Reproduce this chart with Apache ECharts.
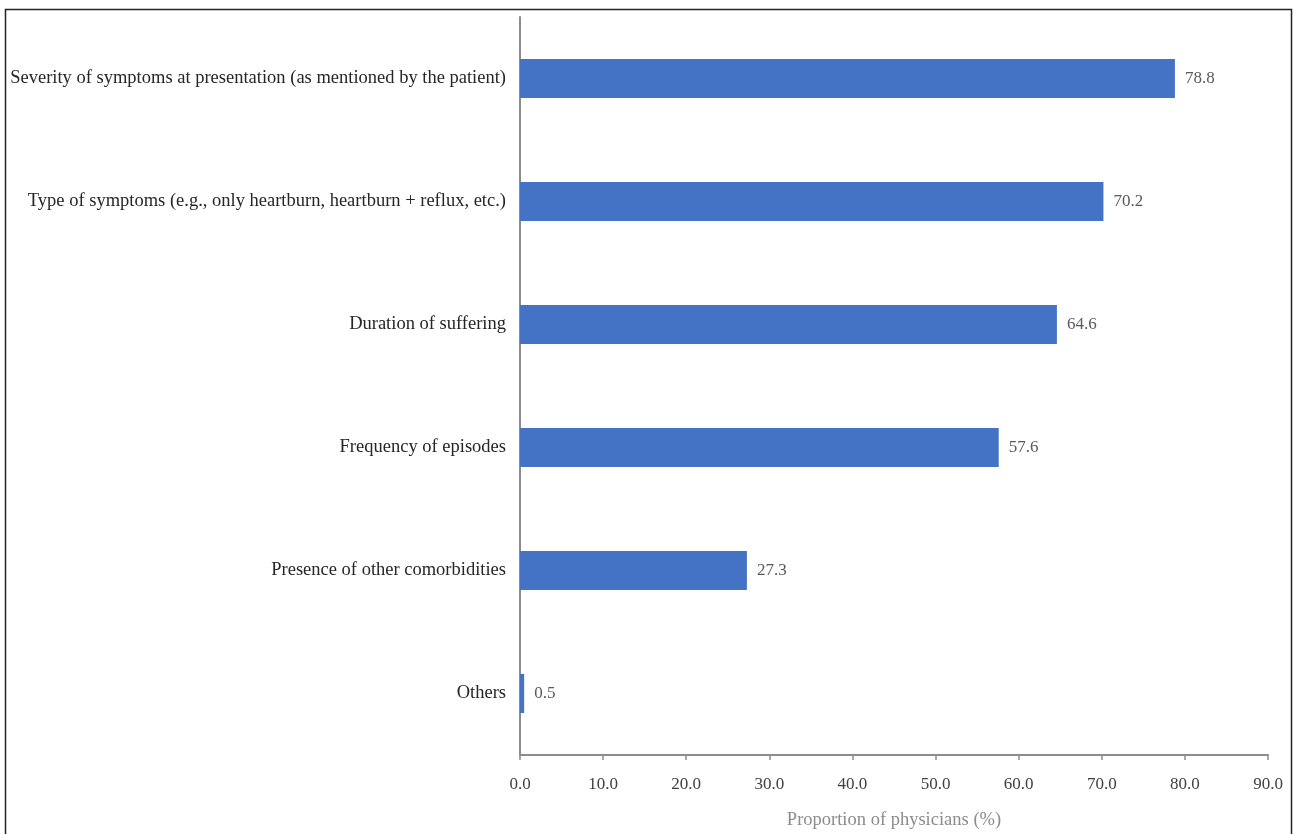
<!DOCTYPE html>
<html>
<head>
<meta charset="utf-8">
<script src="https://cdn.jsdelivr.net/npm/echarts@6/dist/echarts.min.js"></script>
<style>
  html, body { margin: 0; padding: 0; background: #fff; }
  #main { width: 1298px; height: 834px; }
</style>
</head>
<body>
<div id="main"></div>
<script>
var categories = [
    'Severity of symptoms at presentation (as mentioned by the patient)',
    'Type of symptoms (e.g., only heartburn, heartburn + reflux, etc.)',
    'Duration of suffering',
    'Frequency of episodes',
    'Presence of other comorbidities',
    'Others'
];
var proportions = [78.8, 70.2, 64.6, 57.6, 27.3, 0.5];

var myChart = echarts.init(document.getElementById('main'));

var option = {
    backgroundColor: '#fff',
    textStyle: { fontFamily: 'Liberation Serif' },
    grid: { left: 520, right: 30, top: 17, bottom: 79, outerBoundsMode: 'none' },
    graphic: [{
        type: 'rect',
        shape: { x: 5.5, y: 9.5, width: 1286, height: 830 },
        style: { fill: 'none', stroke: '#222', lineWidth: 1.5 },
        silent: true
    }],
    xAxis: {
        type: 'value',
        min: 0,
        max: 90,
        interval: 10,
        name: 'Proportion of physicians (%)',
        nameLocation: 'middle',
        nameGap: 56,
        nameTextStyle: { color: '#8c8c8c', fontSize: 18.5, fontFamily: 'Liberation Serif' },
        axisLine: { show: true, lineStyle: { color: '#8c8c8c', width: 2 } },
        axisTick: { show: true, length: 5, lineStyle: { color: '#8c8c8c', width: 1.5 } },
        axisLabel: {
            margin: 21,
            color: '#404040',
            fontSize: 17,
            formatter: function (v) { return v.toFixed(1); }
        },
        splitLine: { show: false }
    },
    yAxis: {
        type: 'category',
        inverse: true,
        data: categories,
        axisLine: { show: true, lineStyle: { color: '#8c8c8c', width: 2 } },
        axisTick: { show: false },
        axisLabel: { margin: 14, color: '#262626', fontSize: 18.5 }
    },
    series: [{
        type: 'bar',
        data: proportions,
        barWidth: 39,
        itemStyle: { color: '#4472c4' },
        label: {
            show: true,
            position: 'right',
            distance: 10,
            color: '#595959',
            fontSize: 17,
            formatter: function (p) { return p.value.toFixed(1); }
        }
    }]
};

myChart.setOption(option);
</script>
</body>
</html>
